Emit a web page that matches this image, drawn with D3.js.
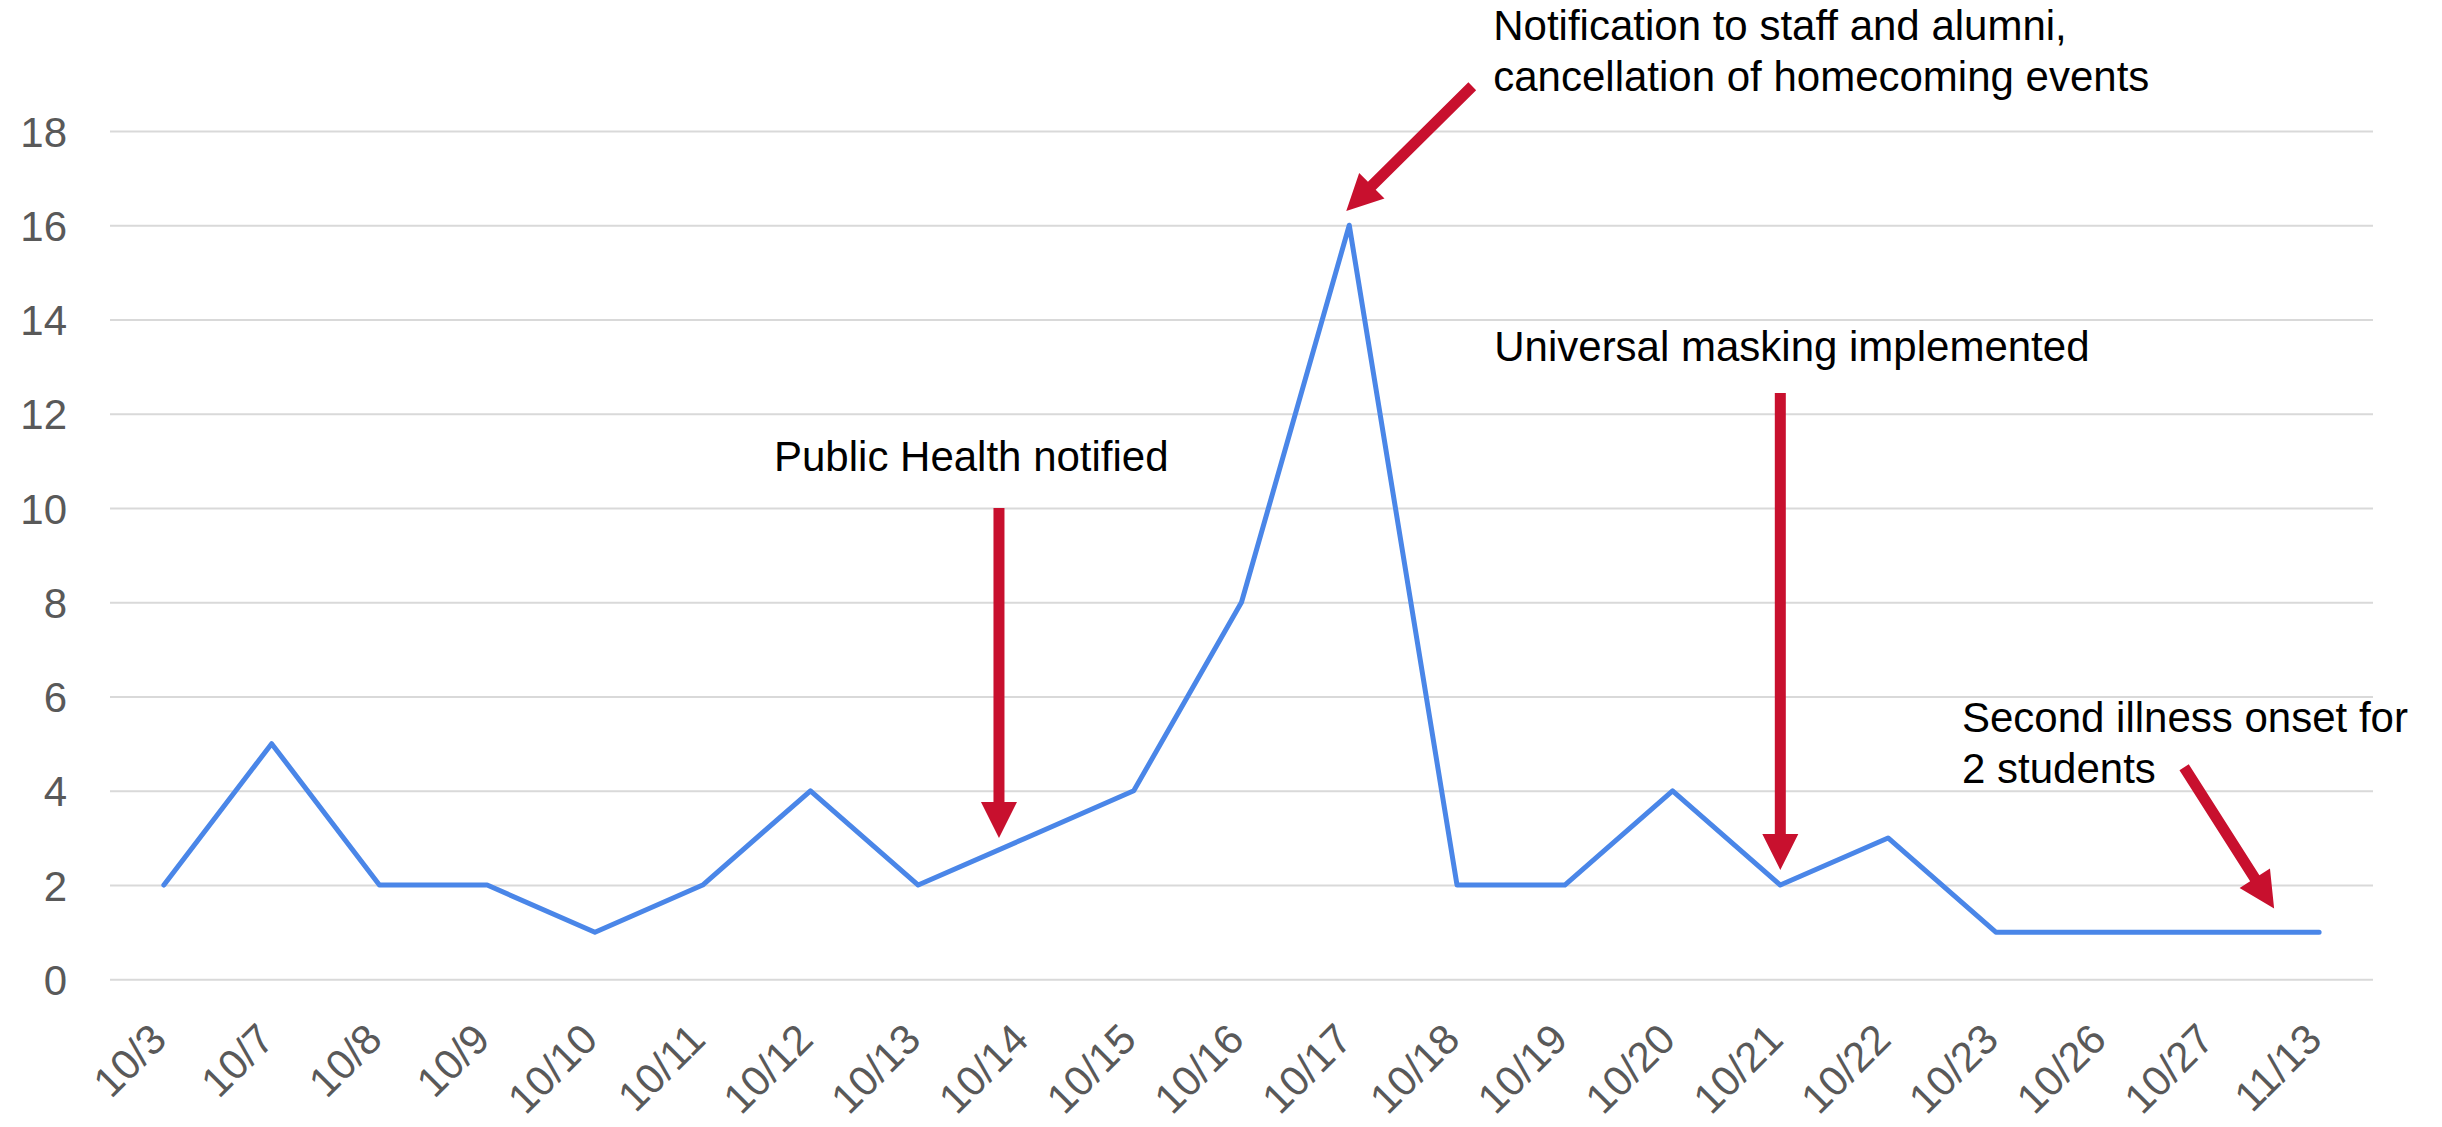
<!DOCTYPE html>
<html>
<head>
<meta charset="utf-8">
<script src="https://cdn.jsdelivr.net/npm/d3@7"></script>
<style>
  body { margin: 0; background: #fff; }
  text { font-family: "Liberation Sans", Arial, sans-serif; }
</style>
</head>
<body>
<svg id="chart"></svg>
<script>
// ---- data ----
var dates = ["10/3", "10/7", "10/8", "10/9", "10/10", "10/11", "10/12", "10/13", "10/14", "10/15",
             "10/16", "10/17", "10/18", "10/19", "10/20", "10/21", "10/22", "10/23", "10/26", "10/27", "11/13"];
var cases = [2, 5, 2, 2, 1, 2, 4, 2, 3, 4, 8, 16, 2, 2, 4, 2, 3, 1, 1, 1, 1];
var yTicks = [0, 2, 4, 6, 8, 10, 12, 14, 16, 18];

var notes = [
  ["Notification to staff and alumni,", "cancellation of homecoming events"],
  ["Public Health notified"],
  ["Universal masking implemented"],
  ["Second illness onset for", "2 students"]
];

// ---- setup ----
var width = 2442;
var height = 1127;
var plotLeft = 110, plotRight = 2373, plotTop = 131, plotBottom = 979.3;

var svg = d3.select("#chart")
  .attr("width", width)
  .attr("height", height);

var x = d3.scalePoint()
  .domain(dates)
  .range([plotLeft, plotRight])
  .padding(0.5);

var y = d3.scaleLinear()
  .domain([0, 18])
  .range([plotBottom, plotTop]);

// gridlines + y labels
var yAxis = svg.append("g")
  .attr("transform", "translate(" + plotLeft + ",0)")
  .call(d3.axisLeft(y)
    .tickValues(yTicks)
    .tickSize(-(plotRight - plotLeft))
    .tickPadding(43));

yAxis.select(".domain").remove();
yAxis.selectAll("line")
  .attr("stroke", "#d9d9d9")
  .attr("stroke-width", 2);
yAxis.selectAll("text")
  .attr("fill", "#595959")
  .style("font-size", "42px")
  .attr("dy", "0.36em");

// x labels, rotated
var xAxis = svg.append("g")
  .attr("transform", "translate(0," + plotBottom + ")")
  .call(d3.axisBottom(x).tickSize(0));

xAxis.select(".domain").remove();
xAxis.selectAll("text")
  .attr("fill", "#595959")
  .style("font-size", "42px")
  .attr("text-anchor", "end")
  .attr("y", 0)
  .attr("dy", "0.35em")
  .attr("transform", "translate(-6,52) rotate(-45)");

// line
var line = d3.line()
  .x((d, i) => x(dates[i]))
  .y(d => y(d));

svg.append("path")
  .datum(cases)
  .attr("d", line)
  .attr("fill", "none")
  .attr("stroke", "#4a86e8")
  .attr("stroke-width", 5)
  .attr("stroke-linejoin", "round")
  .attr("stroke-linecap", "round");

// ---- annotations ----
function arrowPath(x1, y1, x2, y2) {
  var shaft = 5.5, head = 18, headLen = 36;
  var dx = x2 - x1, dy = y2 - y1;
  var len = Math.sqrt(dx * dx + dy * dy);
  var ux = dx / len, uy = dy / len;
  var px = -uy, py = ux;
  var bx = x2 - ux * headLen, by = y2 - uy * headLen;
  var pts = [
    [x1 + px * shaft, y1 + py * shaft],
    [bx + px * shaft, by + py * shaft],
    [bx + px * head, by + py * head],
    [x2, y2],
    [bx - px * head, by - py * head],
    [bx - px * shaft, by - py * shaft],
    [x1 - px * shaft, y1 - py * shaft]
  ];
  return "M" + pts.map(p => p.join(",")).join("L") + "Z";
}

var arrows = [
  [x("10/17") + 123, y(18.95), x("10/17") - 3, y(16.3)],
  [x("10/14") - 27, y(10), x("10/14") - 27, y(3)],
  [x("10/21"), y(12.44), x("10/21"), y(2.32)],
  [x("11/13") - 135, y(4.5), x("11/13") - 45, y(1.5)]
];

svg.selectAll(".arrow")
  .data(arrows)
  .enter()
  .append("path")
    .classed("arrow", true)
    .attr("d", d => arrowPath(d[0], d[1], d[2], d[3]))
    .attr("fill", "#c8102e");

var notePos = [
  [x("10/17") + 144, 40],
  [774, 471],
  [x("10/17") + 145, 361],
  [1962, 732]
];

notes.forEach(function(lines, i) {
  var t = svg.append("text")
    .attr("x", notePos[i][0])
    .attr("y", notePos[i][1])
    .attr("fill", "#000")
    .style("font-size", "42px");
  lines.forEach(function(s, j) {
    t.append("tspan")
      .attr("x", notePos[i][0])
      .attr("dy", j === 0 ? 0 : 50.5)
      .text(s);
  });
});
</script>
</body>
</html>
